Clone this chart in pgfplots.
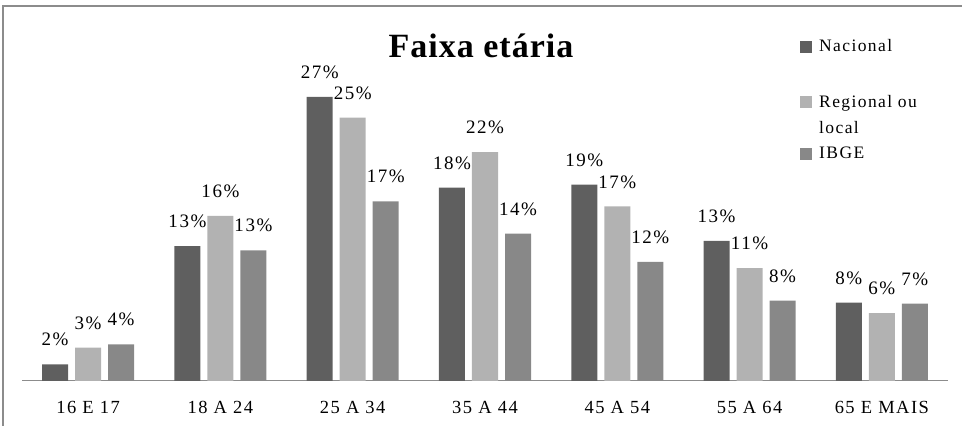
\documentclass[border=0pt]{standalone}
\usepackage{pgfplots}
\pgfplotsset{compat=1.18}
\usepackage{fontspec}
\setmainfont{Liberation Serif}[LetterSpace=8]
\newfontfamily\titlefont{Liberation Serif}[LetterSpace=3]
\definecolor{cNac}{RGB}{95,95,95}
\definecolor{cReg}{RGB}{178,178,178}
\definecolor{cIBGE}{RGB}{136,136,136}
\begin{document}
\begin{tikzpicture}[x=1pt,y=1pt]
\useasboundingbox (0,0) rectangle (962,426);
\begin{scope}
\clip (0,0) rectangle (962,426);
\draw[color=black!45, line width=1.3pt] (3,-10) -- (3,420) -- (980,420);
\end{scope}
\node[font=\titlefont\fontsize{34}{36}\selectfont\bfseries] at (481,380) {Faixa etária};
\begin{axis}[
  at={(22pt,45pt)}, anchor=south west, scale only axis,
  width=926pt, height=313.5pt,
  xmin=-0.5, xmax=6.5, ymin=0, ymax=30,
  ybar=7pt, bar width=26pt,
  axis y line=none,
  axis x line*=bottom,
  x axis line style={draw=black!45, line width=1pt, -},
  xtick={0,1,2,3,4,5,6},
  xticklabels={16 E 17,18 A 24,25 A 34,35 A 44,45 A 54,55 A 64,65 E MAIS},
  major tick length=0pt,
  x tick label style={font=\fontsize{18.5}{20}\selectfont, yshift=-17pt},
  nodes near coords,
  point meta=explicit symbolic,
  nodes near coords style={font=\fontsize{19}{20}\selectfont, inner sep=0pt, yshift=18pt},
  clip=false,
  legend style={at={(0.8402,1.0896)}, anchor=north west, draw=none, fill=none,
    font=\fontsize{17.5}{26}\selectfont, inner sep=0pt, row sep=0pt, column sep=7pt,
    nodes={inner sep=0pt},
    cells={anchor=base west}},
  legend image code/.code={\fill[#1] (0pt,-1pt) rectangle (12pt,11pt);},
]
\addplot[fill=cNac, draw=none] coordinates {
  (0,1.6)[2\%] (1,12.9)[13\%] (2,27.2)[27\%] (3,18.5)[18\%]
  (4,18.8)[19\%] (5,13.4)[13\%] (6,7.5)[8\%]};
\addlegendentry{Nacional}
\addplot[fill=cReg, draw=none] coordinates {
  (0,3.2)[3\%] (1,15.8)[16\%] (2,25.2)[25\%] (3,21.9)[22\%]
  (4,16.7)[17\%] (5,10.8)[11\%] (6,6.5)[6\%]};
\addlegendentry{\rule{0pt}{54pt}\parbox[t]{120pt}{Regional ou\\local}}
\addplot[fill=cIBGE, draw=none] coordinates {
  (0,3.5)[4\%] (1,12.5)[13\%] (2,17.2)[17\%] (3,14.1)[14\%]
  (4,11.4)[12\%] (5,7.7)[8\%] (6,7.4)[7\%]};
\addlegendentry{\rule{0pt}{50pt}IBGE}
\end{axis}
\end{tikzpicture}
\end{document}
